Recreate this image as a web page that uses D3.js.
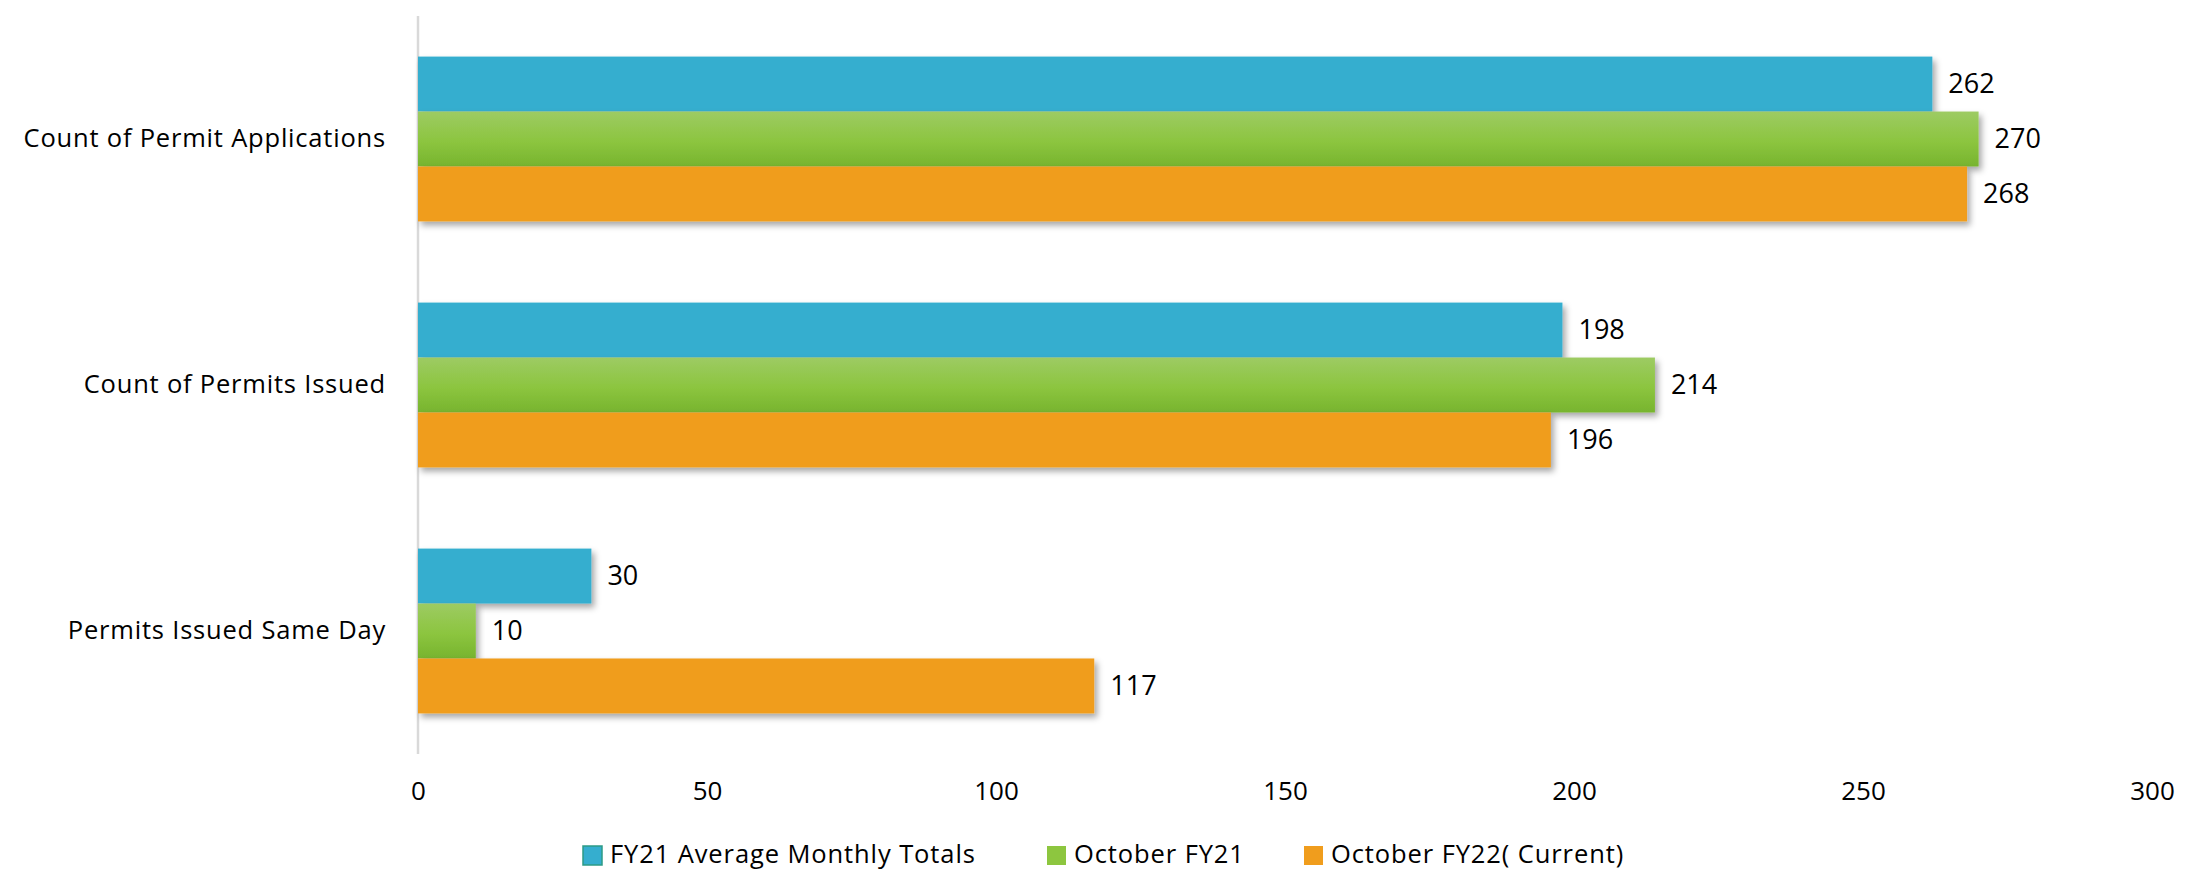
<!DOCTYPE html>
<html>
<head>
<meta charset="utf-8">
<script src="https://cdn.jsdelivr.net/npm/d3@7"></script>
<style>
  body { margin: 0; background: #fff; }
  text { font-family: "Open Sans", sans-serif; fill: #000; }
</style>
</head>
<body>
<svg id="graph" width="2203" height="873"></svg>
<script>
var categories = ["Count of Permit Applications", "Count of Permits Issued", "Permits Issued Same Day"];
var seriesNames = ["FY21 Average Monthly Totals", "October FY21", "October FY22( Current)"];
var fy21Avg = [262, 198, 30];
var oct21 = [270, 214, 10];
var oct22 = [268, 196, 117];
var xTicks = [0, 50, 100, 150, 200, 250, 300];

var colors = ["#35aecf", "url(#greenGrad)", "#f09d1d"];
var legendColors = ["#35aecf", "#8dc63f", "#f09d1d"];

var width = 2203, height = 873;
var margin = { top: 16, right: 51, bottom: 119, left: 418 };

var svg = d3.select("#graph");
var defs = svg.append("defs");

var grad = defs.append("linearGradient")
    .attr("id", "greenGrad")
    .attr("x1", 0).attr("y1", 0).attr("x2", 0).attr("y2", 1);
grad.append("stop").attr("offset", "0%").attr("stop-color", "#9dcb63");
grad.append("stop").attr("offset", "55%").attr("stop-color", "#8cc53f");
grad.append("stop").attr("offset", "100%").attr("stop-color", "#77b42e");

var shadow = defs.append("filter")
    .attr("id", "shadow")
    .attr("x", "-5%").attr("y", "-20%").attr("width", "120%").attr("height", "160%");
shadow.append("feDropShadow")
    .attr("dx", 3).attr("dy", 4)
    .attr("stdDeviation", 3)
    .attr("flood-color", "#000")
    .attr("flood-opacity", 0.35);

var x = d3.scaleLinear()
    .domain([0, 300])
    .range([margin.left, width - margin.right]);

var y = d3.scaleBand()
    .domain(categories)
    .range([margin.top, height - margin.bottom])
    .paddingInner(0.33)
    .paddingOuter(0.165);

var ySub = d3.scaleBand()
    .domain(d3.range(seriesNames.length))
    .range([0, y.bandwidth()]);

var rows = categories.map((c, i) => ({
    category: c,
    values: [fy21Avg[i], oct21[i], oct22[i]]
}));

// axis line
svg.append("line")
    .attr("x1", x(0)).attr("x2", x(0))
    .attr("y1", margin.top).attr("y2", height - margin.bottom)
    .attr("stroke", "#d9d9d9")
    .attr("stroke-width", 2.5);

var groups = svg.append("g").selectAll("g")
    .data(rows)
    .join("g")
    .attr("transform", d => `translate(0,${y(d.category)})`);

groups.selectAll("rect")
    .data(d => d.values.map((v, k) => ({ v: v, k: k })))
    .join("rect")
    .attr("x", x(0))
    .attr("y", d => ySub(d.k))
    .attr("width", d => x(d.v) - x(0))
    .attr("height", ySub.bandwidth())
    .attr("fill", d => colors[d.k])
    .attr("filter", "url(#shadow)");

groups.selectAll("text.val")
    .data(d => d.values.map((v, k) => ({ v: v, k: k })))
    .join("text")
    .attr("class", "val")
    .attr("x", d => x(d.v) + 16)
    .attr("y", d => ySub(d.k) + ySub.bandwidth() / 2)
    .attr("dy", "0.35em")
    .attr("font-size", 27)
    .text(d => d.v);

// category labels
var yAxis = g => g
    .attr("transform", `translate(${margin.left},0)`)
    .call(d3.axisLeft(y).tickSize(0).tickPadding(32))
    .call(g => g.select(".domain").remove())
    .call(g => g.selectAll("text")
        .attr("font-family", "Open Sans, sans-serif")
        .attr("font-size", 25.5)
        .attr("letter-spacing", 0.8)
        .attr("fill", "#000"));
svg.append("g").call(yAxis);

// x tick labels
var xAxis = g => g
    .attr("transform", `translate(0,${height - margin.bottom})`)
    .call(d3.axisBottom(x).tickValues(xTicks).tickSize(0).tickPadding(28))
    .call(g => g.select(".domain").remove())
    .call(g => g.selectAll("text")
        .attr("font-family", "Open Sans, sans-serif")
        .attr("font-size", 26)
        .attr("fill", "#000"));
svg.append("g").call(xAxis);

// legend
var legendX = [583, 1047, 1304];
var legend = svg.append("g").selectAll("g")
    .data(seriesNames)
    .join("g")
    .attr("transform", (d, i) => `translate(${legendX[i]},846)`);

legend.append("rect")
    .attr("width", 19).attr("height", 19)
    .attr("fill", (d, i) => legendColors[i])
    .attr("stroke", (d, i) => i === 0 ? "#2c9b86" : "none")
    .attr("stroke-width", 1.5);

legend.append("text")
    .attr("x", 27)
    .attr("y", 8)
    .attr("dy", "0.35em")
    .attr("font-size", 25.5)
    .attr("letter-spacing", 0.9)
    .text(d => d);
</script>
</body>
</html>
